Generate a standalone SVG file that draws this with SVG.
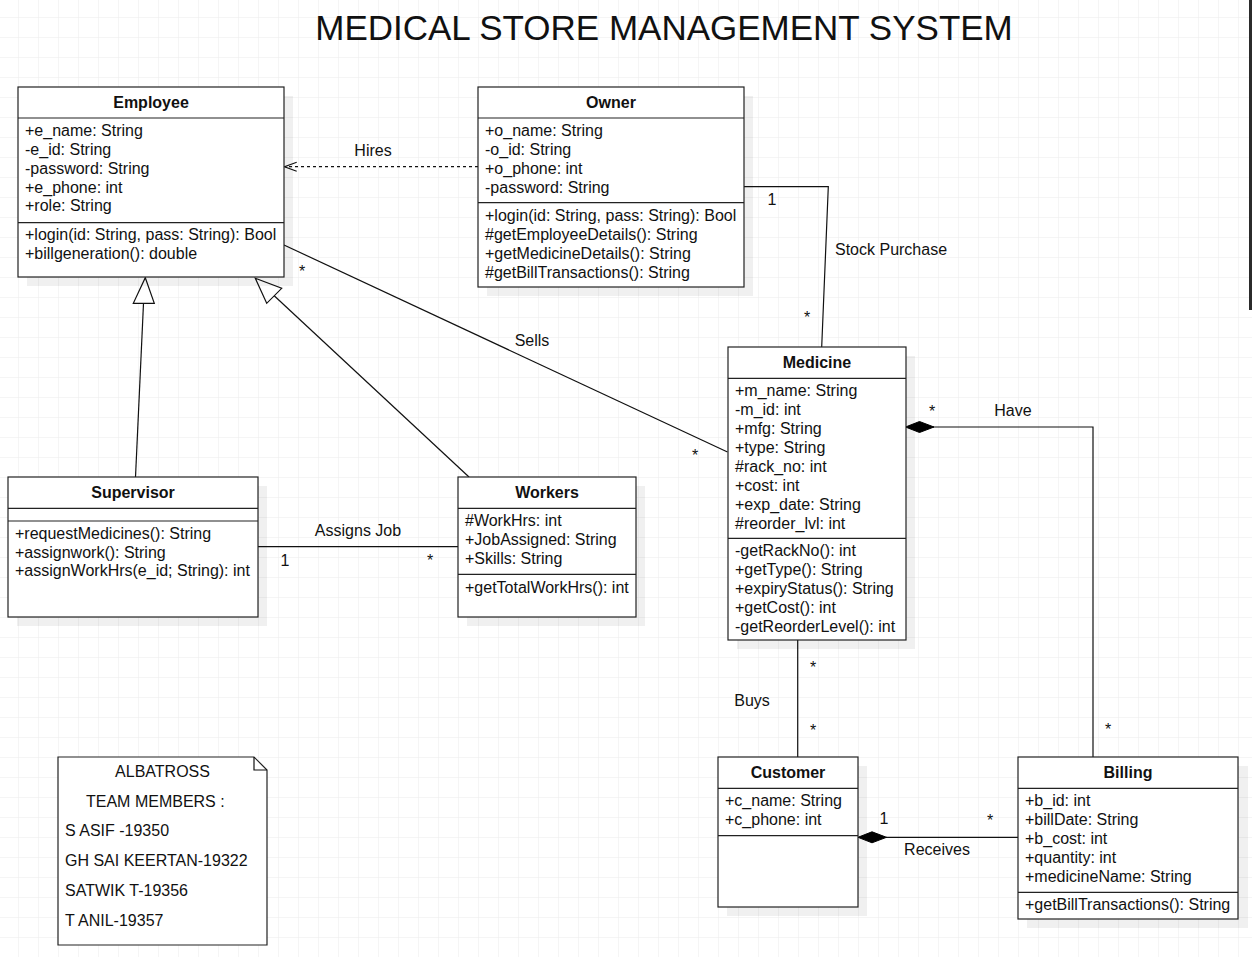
<svg xmlns="http://www.w3.org/2000/svg" width="1252" height="957" viewBox="0 0 1252 957">
<style>
text{font-family:"Liberation Sans",Arial,sans-serif;font-size:16px;fill:#111;}
.h{font-weight:bold;text-anchor:middle;}
.c{text-anchor:middle;}
.box{fill:#fff;stroke:#222;stroke-width:1.2;}
.sh{fill:#000;opacity:0.06;}
.sep{stroke:#222;stroke-width:1.2;}
.ln{fill:none;stroke:#111;stroke-width:1.2;}
</style>
<defs>
<pattern id="grid" x="18" y="17" width="20" height="20" patternUnits="userSpaceOnUse">
<path d="M20 0H0V20" fill="none" stroke="#ebebeb" stroke-width="1"/>
</pattern>
</defs>
<rect width="1252" height="957" fill="#fff"/>
<rect width="1252" height="957" fill="url(#grid)"/>
<rect x="1249" y="0" width="3" height="310" fill="#2b2b2b"/>
<text x="664" y="40" class="c" style="font-size:35px">MEDICAL STORE MANAGEMENT SYSTEM</text>

<g id="connectors">
<path class="ln" d="M478 166.7H285" stroke-dasharray="3 3"/>
<path class="ln" d="M296.7 162.2L284.5 166.7L296.7 171.2"/>
<text x="373" y="156" class="c">Hires</text>
<path class="ln" d="M135.5 477L143.5 303.3"/>
<path d="M145.3 277.7L154.3 303.3H133.3Z" fill="#fff" stroke="#111" stroke-width="1.2"/>
<path class="ln" d="M469 477L274.2 295.8"/>
<path d="M255.3 278.3L281.7 288.3L266.7 303.3Z" fill="#fff" stroke="#111" stroke-width="1.2"/>
<path class="ln" d="M284 245L727.5 452"/>
<text x="302" y="277" class="c">*</text>
<text x="532" y="346" class="c">Sells</text>
<text x="695" y="461" class="c">*</text>
<path class="ln" d="M744 186.7H828.3L821.7 347"/>
<text x="772" y="205" class="c">1</text>
<text x="835" y="255">Stock Purchase</text>
<text x="807" y="323" class="c">*</text>
<path class="ln" d="M258 546.7H458"/>
<text x="358" y="536" class="c">Assigns Job</text>
<text x="285" y="566" class="c">1</text>
<text x="430" y="566" class="c">*</text>
<path class="ln" d="M1093 757V427H933"/>
<path d="M905.5 427L919.5 421.5L934 427L919.5 432.5Z" fill="#000" stroke="#000" stroke-width="1"/>
<text x="932" y="417" class="c">*</text>
<text x="1013" y="416" class="c">Have</text>
<text x="1108" y="735" class="c">*</text>
<path class="ln" d="M797.7 640V757"/>
<text x="813" y="673" class="c">*</text>
<text x="752" y="706" class="c">Buys</text>
<text x="813" y="736" class="c">*</text>
<path class="ln" d="M1018 837.3H886"/>
<path d="M858 837.3L872 831.8L886.5 837.3L872 842.8Z" fill="#000" stroke="#000" stroke-width="1"/>
<text x="884" y="824" class="c">1</text>
<text x="990" y="826" class="c">*</text>
<text x="937" y="855" class="c">Receives</text>
</g>

<g id="employee">
<rect class="sh" x="27" y="96" width="266" height="190"/>
<rect class="box" x="18" y="87" width="266" height="190"/>
<path class="sep" d="M18 118H284M18 222.7H284"/>
<text x="151" y="108" class="h">Employee</text>
<text x="25" y="136">+e_name: String</text>
<text x="25" y="155">-e_id: String</text>
<text x="25" y="174">-password: String</text>
<text x="25" y="193">+e_phone: int</text>
<text x="25" y="211">+role: String</text>
<text x="25" y="240">+login(id: String, pass: String): Bool</text>
<text x="25" y="259">+billgeneration(): double</text>
</g>

<g id="owner">
<rect class="sh" x="487" y="96" width="266" height="200"/>
<rect class="box" x="478" y="87" width="266" height="200"/>
<path class="sep" d="M478 118H744M478 202.7H744"/>
<text x="611" y="108" class="h">Owner</text>
<text x="485" y="136">+o_name: String</text>
<text x="485" y="155">-o_id: String</text>
<text x="485" y="174">+o_phone: int</text>
<text x="485" y="193">-password: String</text>
<text x="485" y="221">+login(id: String, pass: String): Bool</text>
<text x="485" y="240">#getEmployeeDetails(): String</text>
<text x="485" y="259">+getMedicineDetails(): String</text>
<text x="485" y="278">#getBillTransactions(): String</text>
</g>

<g id="medicine">
<rect class="sh" x="737" y="356" width="178" height="293"/>
<rect class="box" x="728" y="347" width="178" height="293"/>
<path class="sep" d="M728 378.3H906M728 538.3H906"/>
<text x="817" y="368" class="h">Medicine</text>
<text x="735" y="396">+m_name: String</text>
<text x="735" y="415">-m_id: int</text>
<text x="735" y="434">+mfg: String</text>
<text x="735" y="453">+type: String</text>
<text x="735" y="472">#rack_no: int</text>
<text x="735" y="491">+cost: int</text>
<text x="735" y="510">+exp_date: String</text>
<text x="735" y="529">#reorder_lvl: int</text>
<text x="735" y="556">-getRackNo(): int</text>
<text x="735" y="575">+getType(): String</text>
<text x="735" y="594">+expiryStatus(): String</text>
<text x="735" y="613">+getCost(): int</text>
<text x="735" y="632">-getReorderLevel(): int</text>
</g>

<g id="supervisor">
<rect class="sh" x="17" y="486" width="250" height="140"/>
<rect class="box" x="8" y="477" width="250" height="140"/>
<path class="sep" d="M8 508.3H258M8 521H258"/>
<text x="133" y="498" class="h">Supervisor</text>
<text x="15" y="539">+requestMedicines(): String</text>
<text x="15" y="558">+assignwork(): String</text>
<text x="15" y="576">+assignWorkHrs(e_id; String): int</text>
</g>

<g id="workers">
<rect class="sh" x="467" y="486" width="178" height="140"/>
<rect class="box" x="458" y="477" width="178" height="140"/>
<path class="sep" d="M458 508.3H636M458 574.3H636"/>
<text x="547" y="498" class="h">Workers</text>
<text x="465" y="526">#WorkHrs: int</text>
<text x="465" y="545">+JobAssigned: String</text>
<text x="465" y="564">+Skills: String</text>
<text x="465" y="593">+getTotalWorkHrs(): int</text>
</g>

<g id="customer">
<rect class="sh" x="727" y="766" width="140" height="150"/>
<rect class="box" x="718" y="757" width="140" height="150"/>
<path class="sep" d="M718 788.3H858M718 835.7H858"/>
<text x="788" y="778" class="h">Customer</text>
<text x="725" y="806">+c_name: String</text>
<text x="725" y="825">+c_phone: int</text>
</g>

<g id="billing">
<rect class="sh" x="1027" y="766" width="221" height="162"/>
<rect class="box" x="1018" y="757" width="220" height="162"/>
<path class="sep" d="M1018 788.3H1238M1018 892.3H1238"/>
<text x="1128" y="778" class="h">Billing</text>
<text x="1025" y="806">+b_id: int</text>
<text x="1025" y="825">+billDate: String</text>
<text x="1025" y="844">+b_cost: int</text>
<text x="1025" y="863">+quantity: int</text>
<text x="1025" y="882">+medicineName: String</text>
<text x="1025" y="910">+getBillTransactions(): String</text>
</g>

<g id="note">
<path class="box" d="M58 757H254L267 770V945H58Z"/>
<path class="ln" d="M254 757V770H267"/>
<text x="162.5" y="777" class="c">ALBATROSS</text>
<text x="86" y="807">TEAM MEMBERS :</text>
<text x="65" y="836">S ASIF -19350</text>
<text x="65" y="866">GH SAI KEERTAN-19322</text>
<text x="65" y="896">SATWIK T-19356</text>
<text x="65" y="926">T ANIL-19357</text>
</g>
</svg>
